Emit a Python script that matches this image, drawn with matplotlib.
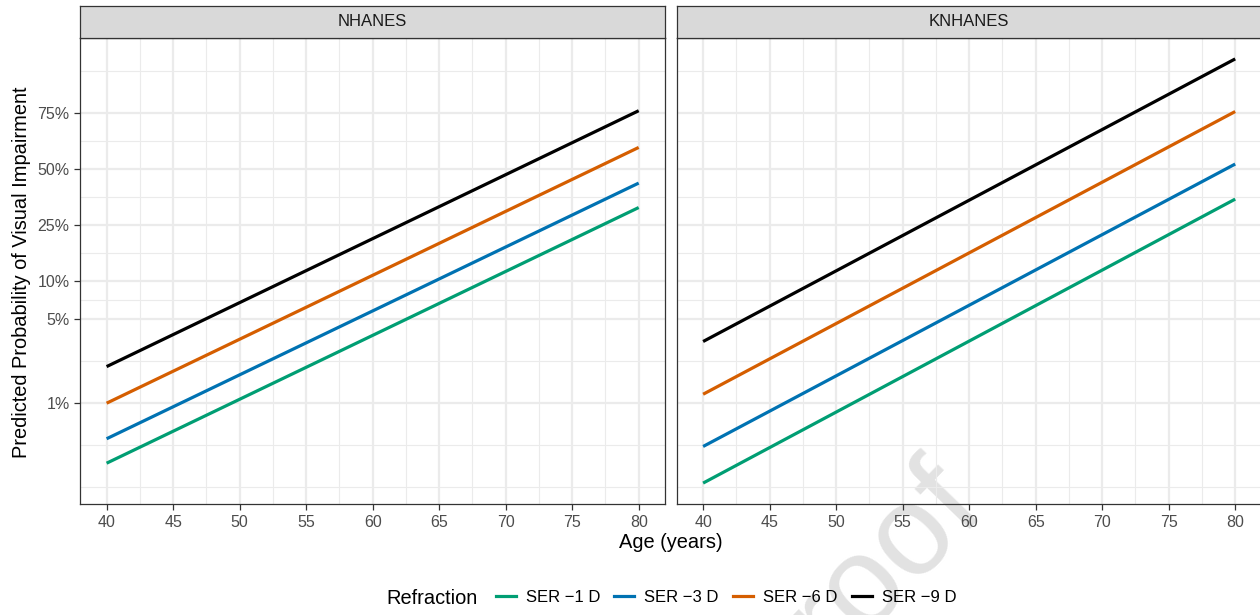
import numpy as np
import matplotlib
matplotlib.use("Agg")
import matplotlib.pyplot as plt
from matplotlib.ticker import FixedLocator, FixedFormatter
from matplotlib.lines import Line2D

plt.rcParams['font.family'] = ['Liberation Sans', 'DejaVu Sans']

# data (predicted probability at age 40 and 80)
ages = [40, 80]
panels = ["NHANES", "KNHANES"]
refraction = ["SER \u22121 D", "SER \u22123 D", "SER \u22126 D", "SER \u22129 D"]
nhanes_ser1 = [0.0031, 0.320]
nhanes_ser3 = [0.0050, 0.432]
nhanes_ser6 = [0.0100, 0.605]
nhanes_ser9 = [0.0203, 0.759]
knhanes_ser1 = [0.0021, 0.357]
knhanes_ser3 = [0.0043, 0.525]
knhanes_ser6 = [0.0119, 0.756]
knhanes_ser9 = [0.0328, 0.897]
y_breaks = [0.01, 0.05, 0.10, 0.25, 0.50, 0.75]
y_labels = ["1%", "5%", "10%", "25%", "50%", "75%"]
x_breaks = [40, 45, 50, 55, 60, 65, 70, 75, 80]

series = {
    "NHANES": [nhanes_ser1, nhanes_ser3, nhanes_ser6, nhanes_ser9],
    "KNHANES": [knhanes_ser1, knhanes_ser3, knhanes_ser6, knhanes_ser9],
}
colors = ["#009E73", "#0072B2", "#D55E00", "#000000"]


def logit(p):
    p = np.asarray(p, dtype=float)
    return np.log(p / (1 - p))


def expit(z):
    return 1 / (1 + np.exp(-np.asarray(z, dtype=float)))


# shared y limits, 5% expansion in logit space (like ggplot)
all_z = logit(np.concatenate([np.ravel(v) for v in series.values()]))
zr = all_z.max() - all_z.min()
ylo, yhi = all_z.min() - 0.05 * zr, all_z.max() + 0.05 * zr

# ggplot-style minor breaks: midpoints, majors extended by first step
zb = list(logit(y_breaks))
step = zb[1] - zb[0]
if ylo < zb[0]:
    zb = [zb[0] - step] + zb
if yhi > zb[-1]:
    zb = zb + [zb[-1] + step]
z_minor = [zb[0]] + [(a + b) / 2 for a, b in zip(zb[:-1], zb[1:])]
z_minor = [z for z in z_minor if ylo < z < yhi]
y_minor = list(expit(z_minor))
x_minor = [b + 2.5 for b in x_breaks[:-1]]

W, H = 1260, 615
fig = plt.figure(figsize=(12.6, 6.15), dpi=100)
fig.patch.set_facecolor("white")

# watermark (behind panels)
fig.text(988 / W, 1 - 512 / H, "Journal Pre-proof", fontsize=92, color="#E2E2E2",
         rotation=46, rotation_mode="anchor", ha="right", va="baseline", zorder=-5)

pan_l = [80.0, 676.5]
pan_w = 585.3
pan_top, pan_bot = 37.7, 504.3
strip_top = 6.0

for i, name in enumerate(panels):
    ax = fig.add_axes([pan_l[i] / W, 1 - pan_bot / H, pan_w / W, (pan_bot - pan_top) / H])
    ax.set_facecolor("none")
    ax.set_yscale("logit")
    for vals, c in zip(series[name], colors):
        ax.plot(ages, vals, color=c, lw=2.3, solid_capstyle="butt", zorder=3)
    ax.set_xlim(38, 82)
    ax.set_ylim(expit(ylo), expit(yhi))

    ax.yaxis.set_major_locator(FixedLocator(y_breaks))
    ax.yaxis.set_minor_locator(FixedLocator(y_minor))
    ax.yaxis.set_major_formatter(FixedFormatter(y_labels))
    ax.yaxis.set_minor_formatter(FixedFormatter([""] * len(y_minor)))
    ax.xaxis.set_major_locator(FixedLocator(x_breaks))
    ax.xaxis.set_minor_locator(FixedLocator(x_minor))

    ax.grid(True, which="major", color="#EBEBEB", lw=1.6, zorder=0)
    ax.grid(True, which="minor", color="#EBEBEB", lw=0.8, zorder=0)
    ax.set_axisbelow(True)
    ax.tick_params(which="minor", length=0)
    ax.tick_params(which="major", length=4.5, width=0.9, color="#333333",
                   labelsize=11.5, labelcolor="#4D4D4D", pad=3)
    for sp in ax.spines.values():
        sp.set_color("#333333")
        sp.set_linewidth(0.9)
    if i > 0:
        ax.tick_params(axis="y", which="both", left=False, labelleft=False)

    # facet strip
    sax = fig.add_axes([pan_l[i] / W, 1 - pan_top / H, pan_w / W, (pan_top - strip_top) / H])
    sax.set_facecolor("#D9D9D9")
    sax.set_xticks([])
    sax.set_yticks([])
    for sp in sax.spines.values():
        sp.set_color("#333333")
        sp.set_linewidth(0.9)
    sax.text(0.5, 0.5, name, transform=sax.transAxes, ha="center", va="center",
             fontsize=12, color="#1A1A1A")

fig.text(22 / W, 1 - 272 / H, "Predicted Probability of Visual Impairment",
         rotation=90, ha="center", va="center", fontsize=14.4)
fig.text(671 / W, 1 - 543 / H, "Age (years)", ha="center", va="center", fontsize=14.4)

# legend at the bottom
handles = [Line2D([], [], color=c, lw=2.3) for c in colors]
fig.text(386 / W, 1 - 598 / H, "Refraction", ha="left", va="center", fontsize=14.4)
fig.legend(handles, refraction, ncol=4, loc="center", bbox_to_anchor=(726 / W, 1 - 597 / H),
           frameon=False, fontsize=12, handlelength=1.2, handletextpad=0.6,
           columnspacing=0.85, borderpad=0, borderaxespad=0)

fig.savefig("out.png", dpi=100)
